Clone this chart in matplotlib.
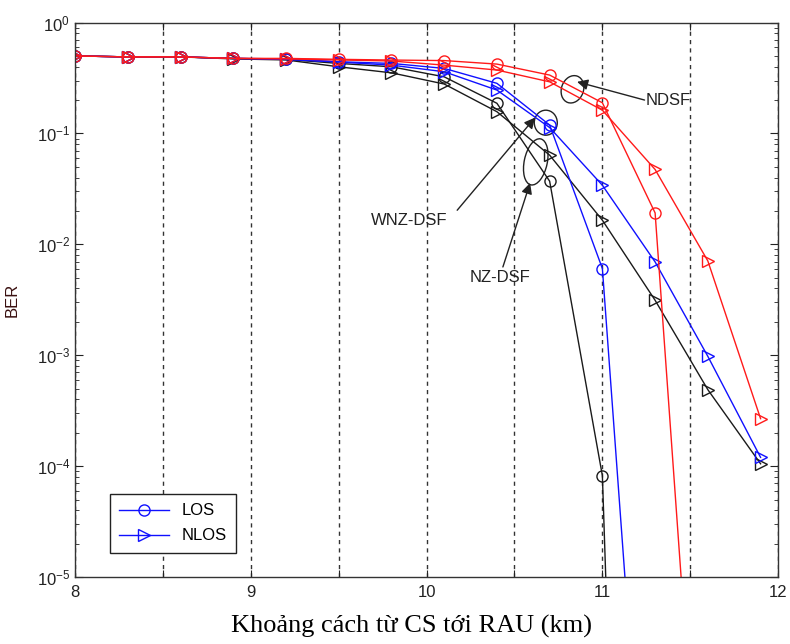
import numpy as np
import matplotlib
matplotlib.use("Agg")
import matplotlib.pyplot as plt
from matplotlib.lines import Line2D
from matplotlib.patches import Ellipse
from matplotlib.transforms import ScaledTranslation

# Distance from CS to RAU (km)
distance_km = [8.0, 8.3, 8.6, 8.9, 9.2, 9.5, 9.8, 10.1, 10.4, 10.7, 11.0, 11.3, 11.6, 11.9]

# BER per fibre type, LOS and NLOS (None = not computed)
ndsf_los = [0.50, 0.49, 0.49, 0.475, 0.475, 0.466, 0.459, 0.454, 0.422, 0.336, 0.189, 0.0192, 4.2e-9, None]
ndsf_nlos = [0.50, 0.49, 0.49, 0.475, 0.47, 0.46, 0.45, 0.413, 0.373, 0.292, 0.162, 0.0473, 0.00708, 2.68e-4]
wnz_los = [0.50, 0.49, 0.49, 0.475, 0.47, 0.443, 0.428, 0.386, 0.283, 0.119, 0.00605, 1.9e-9, None, None]
wnz_nlos = [0.50, 0.49, 0.49, 0.475, 0.465, 0.44, 0.413, 0.36, 0.246, 0.113, 0.0341, 0.00694, 9.77e-4, 1.2e-4]
nz_los = [0.50, 0.49, 0.49, 0.475, 0.465, 0.428, 0.399, 0.324, 0.187, 0.0371, 8.2e-5, 4e-19, None, None]
nz_nlos = [0.50, 0.49, 0.49, 0.47, 0.46, 0.399, 0.352, 0.279, 0.157, 0.0637, 0.0165, 0.00313, 4.89e-4, 1.05e-4]

x_tick_labels = ["8", "", "9", "", "10", "", "11", "", "12"]

plt.rcParams["font.family"] = ["Liberation Sans", "DejaVu Sans"]
plt.rcParams["mathtext.fontset"] = "custom"
plt.rcParams["mathtext.rm"] = "Liberation Sans"

fig = plt.figure(figsize=(7.9, 6.44), dpi=100)
ax = fig.add_axes([0.095, 0.104, 0.890, 0.861])


def arr(v):
    return np.array([np.nan if a is None else a for a in v], dtype=float)


x = np.array(distance_km)
series = [
    (nz_los, "k", "o"), (nz_nlos, "k", ">"),
    (wnz_los, "b", "o"), (wnz_nlos, "b", ">"),
    (ndsf_los, "r", "o"), (ndsf_nlos, "r", ">"),
]
color_map = {"k": "#1a1a1a", "b": "#1010ff", "r": "#ff1a1a"}
for vals, c, m in series:
    ax.plot(x, arr(vals), color=color_map[c], marker=m, markersize=8,
            markerfacecolor="none", markeredgewidth=1.0, linewidth=1.0)

ax.set_yscale("log")
ax.set_xlim(8, 12)
ax.set_ylim(1e-5, 1)
ax.set_xticks(np.arange(8, 12.01, 0.5))
ax.set_xticklabels(x_tick_labels)
ax.grid(True, axis="x", linestyle=(0, (3, 3)), color="#333333", linewidth=1.0)
ax.tick_params(axis="both", which="both", direction="in", top=True, right=True,
               labelsize=12, colors="#222222")
ax.tick_params(axis="y", which="major", length=6)
ax.tick_params(axis="y", which="minor", length=3)
ax.tick_params(axis="x", which="major", length=5, pad=6)
for s in ax.spines.values():
    s.set_linewidth(1.0)
    s.set_color("#333333")

ax.set_ylabel("BER", fontsize=12, color="#3a1010", labelpad=12)
ax.set_xlabel("Khoảng cách từ CS tới RAU (km)", fontsize=19,
              family=["Liberation Serif", "DejaVu Serif"])
ax.xaxis.set_label_coords(0.478, -0.068)


def ring(xd, yd, w, h, angle=0.0):
    tr = fig.dpi_scale_trans + ScaledTranslation(xd, yd, ax.transData)
    ax.add_patch(Ellipse((0, 0), w / 100, h / 100, angle=angle, transform=tr,
                         fill=False, edgecolor="#222222", linewidth=1.0))


ring(10.83, 0.25, 22, 28, -20)
ring(10.678, 0.125, 23, 25)
ring(10.621, 0.0554, 23, 47, -12)

arrow = dict(arrowstyle="-|>", color="#222222", lw=1.0, mutation_scale=16,
             shrinkA=0, shrinkB=0)
ax.annotate("", xy=(10.856, 0.292), xytext=(11.24, 0.2), arrowprops=arrow)
ax.text(11.245, 0.2, "NDSF", fontsize=12, ha="left", va="center", color="#222222")

ax.annotate("", xy=(10.617, 0.139), xytext=(10.174, 0.0203), arrowprops=arrow)
ax.text(9.9, 0.0165, "WNZ-DSF", fontsize=12, ha="center", va="center", color="#222222")

ax.annotate("", xy=(10.589, 0.0358), xytext=(10.434, 0.00625), arrowprops=arrow)
ax.text(10.418, 0.00505, "NZ-DSF", fontsize=12, ha="center", va="center", color="#222222")

handles = [
    Line2D([], [], color="#1010ff", marker="o", markerfacecolor="none", markersize=8, lw=1.0),
    Line2D([], [], color="#1010ff", marker=">", markerfacecolor="none", markersize=8, lw=1.0),
]
leg = ax.legend(handles, ["LOS", "NLOS"], loc="lower left",
                bbox_to_anchor=(0.049, 0.044), borderaxespad=0, fontsize=12,
                fancybox=False, framealpha=1, edgecolor="#222222",
                handlelength=3.0, borderpad=0.55, labelspacing=0.6)
leg.get_frame().set_linewidth(1.0)

fig.savefig("out.png", dpi=100)
